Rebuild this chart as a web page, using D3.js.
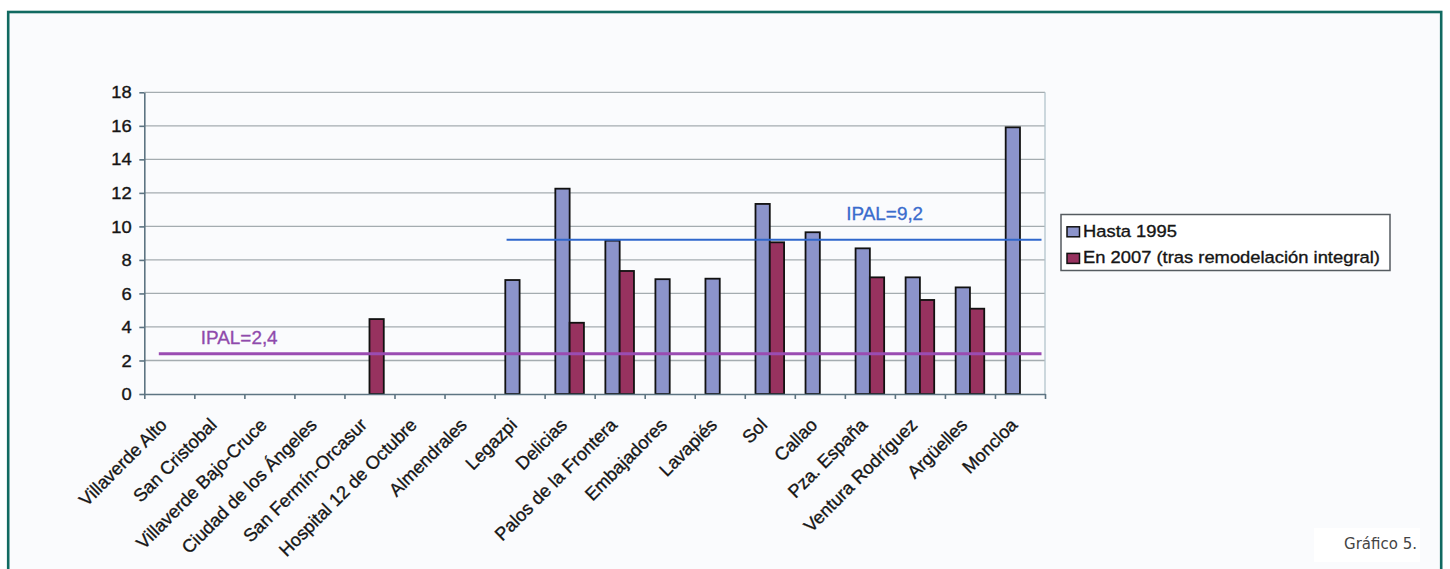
<!DOCTYPE html>
<html>
<head>
<meta charset="utf-8">
<script src="https://cdn.jsdelivr.net/npm/d3@7"></script>
<style>
  html, body { margin: 0; padding: 0; background: #ffffff; }
  svg { display: block; }
  text { font-family: "Liberation Sans", Arial, sans-serif; fill: #151515; }
  .lbl { stroke: #151515; stroke-width: 0.35px; paint-order: stroke; }
</style>
</head>
<body>
<svg id="chart" width="1450" height="569"></svg>
<script>
// Estaciones de la línea, de sur a norte
const categories = [
  "Villaverde Alto", "San Cristobal", "Villaverde Bajo-Cruce", "Ciudad de los Ángeles",
  "San Fermín-Orcasur", "Hospital 12 de Octubre", "Almendrales", "Legazpi", "Delicias",
  "Palos de la Frontera", "Embajadores", "Lavapiés", "Sol", "Callao", "Pza. España",
  "Ventura Rodríguez", "Argüelles", "Moncloa"
];

const seriesNames = ["Hasta 1995", "En 2007 (tras remodelación integral)"];

// Valores por estación (null = sin dato)
const hasta1995 = [null, null, null, null, null, null, null, 6.8, 12.25, 9.15, 6.85, 6.88, 11.34, 9.65, 8.69, 6.96, 6.36, 15.91];
const en2007    = [null, null, null, null, 4.47, null, null, null, 4.25, 7.34, null, null, 9.05, null, 6.96, 5.61, 5.09, null];

const yTicks = [0, 2, 4, 6, 8, 10, 12, 14, 16, 18];

// Líneas de referencia IPAL (extensión y rótulo en unidades de estación / valor)
const ipalValues = [9.2, 2.4];
const ipalLabels = ["IPAL=9,2", "IPAL=2,4"];
const ipalFrom   = [7.24, 0.29];
const ipalTo     = [17.93, 17.93];
const ipalLabelX = [14.03, 1.13];
const ipalLabelY = [10.4, 3.0];

const footnote = "Gráfico 5.";

// ---------------------------------------------------------------------------
const W = 1450, H = 569;
const P = { left: 144.3, right: 1045, top: 92.3, bottom: 394 };
const FS = 17, SX = 1.08;             // tamaño de letra y ensanche horizontal
const colors = ["#8c94cb", "#97325f"];
const ipalColors = ["#2f67cc", "#9a4cb2"];
const ipalText = ["#3a6ccd", "#8f4aac"];
const ipalWidth = [2, 3];

const svg = d3.select("#chart");

// Marco exterior
svg.append("rect").attr("x", 0).attr("y", 0).attr("width", W).attr("height", H).attr("fill", "#ffffff");
svg.append("rect")
  .attr("x", 8.2).attr("y", 12).attr("width", 1433).attr("height", H + 20)
  .attr("fill", "#fafbfd").attr("stroke", "#116a61").attr("stroke-width", 2.6);

// Escalas
const x = d3.scaleBand().domain(categories).range([P.left, P.right]).paddingInner(0).paddingOuter(0);
const xIdx = d3.scaleLinear().domain([0, categories.length]).range([P.left, P.right]);
const xSub = d3.scaleBand().domain(seriesNames).range([0, x.bandwidth()]).paddingInner(0).paddingOuter(0.75);
const y = d3.scaleLinear().domain([0, 18]).range([P.bottom, P.top]);

// Rejilla
svg.append("g").selectAll("line").data(yTicks.filter(d => d > 0)).join("line")
  .attr("x1", P.left).attr("x2", P.right)
  .attr("y1", d => y(d)).attr("y2", d => y(d))
  .attr("stroke", "#a4acb0").attr("stroke-width", 1.3);
svg.append("line")
  .attr("x1", P.right).attr("x2", P.right).attr("y1", P.top).attr("y2", P.bottom)
  .attr("stroke", "#b3c3cc").attr("stroke-width", 1.3);

// Barras
const rows = categories.map((c, i) => ({ cat: c, vals: [hasta1995[i], en2007[i]] }));
const gBars = svg.append("g");
seriesNames.forEach((s, si) => {
  gBars.append("g").selectAll("rect")
    .data(rows.filter(r => r.vals[si] != null))
    .join("rect")
    .attr("x", r => x(r.cat) + xSub(s))
    .attr("width", xSub.bandwidth())
    .attr("y", r => y(r.vals[si]))
    .attr("height", r => y(0) - y(r.vals[si]))
    .attr("fill", colors[si])
    .attr("stroke", "#111")
    .attr("stroke-width", 1.8);
});

// Ejes
const yAxis = svg.append("g").attr("transform", `translate(${P.left},0)`)
  .call(d3.axisLeft(y).tickValues(yTicks).tickSize(5).tickSizeOuter(0).tickFormat(""));
const xAxis = svg.append("g").attr("transform", `translate(0,${P.bottom})`)
  .call(d3.axisBottom(xIdx).tickValues(d3.range(categories.length + 1)).tickSize(5).tickSizeOuter(0).tickFormat(""));
[yAxis, xAxis].forEach(a => {
  a.selectAll("path, line").attr("stroke", "#5d7482").attr("stroke-width", 1.6);
});

// Rótulos del eje Y
svg.append("g").selectAll("text").data(yTicks).join("text")
  .attr("class", "lbl")
  .attr("transform", d => `translate(${P.left - 12.5},${y(d)}) scale(${SX},1)`)
  .attr("dy", "0.36em")
  .attr("text-anchor", "end")
  .style("font-size", FS + "px")
  .text(d => d);

// Rótulos del eje X (inclinados 45°)
svg.append("g").selectAll("text").data(categories).join("text")
  .attr("class", "lbl")
  .attr("transform", d => `translate(${x(d) + x.bandwidth() / 2 - 1.5},${P.bottom + 32}) rotate(-45)`)
  .attr("text-anchor", "end")
  .style("font-size", "18.2px")
  .text(d => d);

// Líneas IPAL
ipalValues.forEach((v, i) => {
  svg.append("line")
    .attr("x1", xIdx(ipalFrom[i])).attr("x2", xIdx(ipalTo[i]))
    .attr("y1", y(v)).attr("y2", y(v))
    .attr("stroke", ipalColors[i]).attr("stroke-width", ipalWidth[i]);
  svg.append("text")
    .attr("transform", `translate(${xIdx(ipalLabelX[i])},${y(ipalLabelY[i])}) scale(${SX},1)`)
    .style("font-size", "17.5px")
    .style("fill", ipalText[i])
    .style("stroke", ipalText[i]).style("stroke-width", "0.3px")
    .text(ipalLabels[i]);
});

// Leyenda
const lg = svg.append("g").attr("transform", "translate(1061,214.5)");
lg.append("rect").attr("width", 329).attr("height", 56)
  .attr("fill", "#ffffff").attr("stroke", "#555b60").attr("stroke-width", 1.5);
seriesNames.forEach((s, i) => {
  const row = lg.append("g").attr("transform", `translate(0,${22.3 + i * 26.6})`);
  row.append("rect").attr("x", 6).attr("y", -10).attr("width", 12.5).attr("height", 10)
    .attr("fill", colors[i]).attr("stroke", "#111").attr("stroke-width", 1.5);
  row.append("text").attr("class", "lbl").attr("transform", `translate(22,0) scale(${SX},1)`)
    .style("font-size", FS + "px").text(s);
});

// Pie
svg.append("rect").attr("x", 1314).attr("y", 528).attr("width", 106).attr("height", 34).attr("fill", "#ffffff");
svg.append("text").attr("x", 1417).attr("y", 548.5).attr("text-anchor", "end")
  .style("font-family", "'DejaVu Sans', sans-serif").style("font-size", "15px").style("fill", "#444")
  .text(footnote);
</script>
</body>
</html>
